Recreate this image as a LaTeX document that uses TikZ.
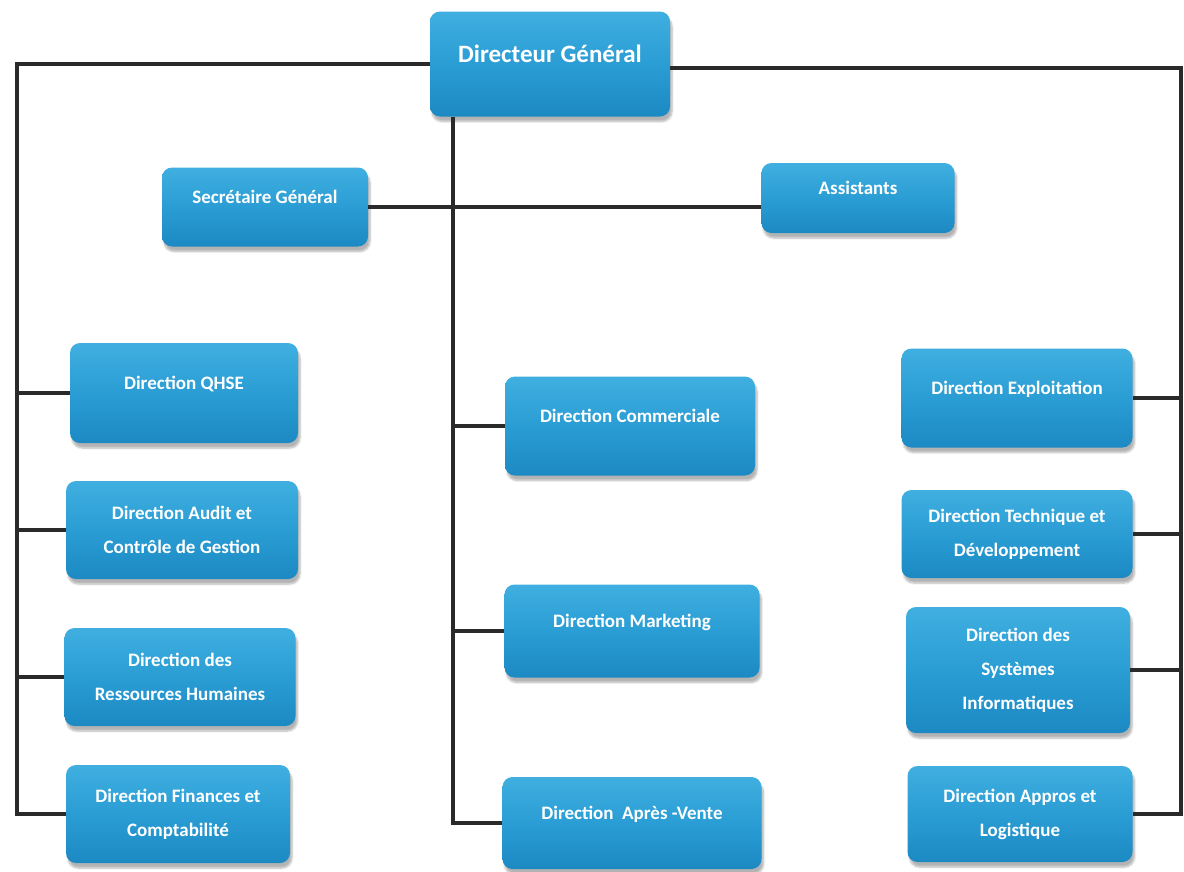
\documentclass[tikz,border=0pt]{standalone}
\usepackage{fontspec}
\setmainfont{Carlito}
\usetikzlibrary{shadows.blur}
\definecolor{boxtop}{HTML}{40AFE0}
\definecolor{boxmid}{HTML}{2A9DD4}
\definecolor{boxbot}{HTML}{1C89C3}
\definecolor{wirecol}{HTML}{2A2A2A}
\tikzset{
  orgbox/.style={rounded corners=10pt, top color=boxtop, bottom color=boxbot,
    middle color=boxmid, draw=none, text=white, font=\bfseries\fontsize{19}{34}\selectfont,
    align=center, inner sep=0pt,
    blur shadow={shadow xshift=2pt, shadow yshift=-5pt, shadow opacity=30, shadow blur steps=6}},
  oneline/.style={text depth=20pt},
  wire/.style={draw=wirecol, line width=3.2pt, line join=miter},
}
\begin{document}
\begin{tikzpicture}[x=1pt, y=-1pt]
  \useasboundingbox (0,0) rectangle (1184,871);

  % top of the chart
  \node[orgbox, oneline, minimum width=240, minimum height=105,
        font=\bfseries\fontsize{25}{30}\selectfont] (dg) at (550,64) {Directeur Général};
  \node[orgbox, oneline, minimum width=206, minimum height=79] (sg) at (265,207) {Secrétaire Général};
  \node[orgbox, oneline, minimum width=193, minimum height=70] (asst) at (858,198) {Assistants};

  % left column
  \node[orgbox, oneline, minimum width=228, minimum height=100] (qhse) at (184,393) {Direction QHSE};
  \node[orgbox, minimum width=232, minimum height=98] (audit) at (182,530) {Direction Audit et\\Contrôle de Gestion};
  \node[orgbox, minimum width=231, minimum height=98] (rh) at (180,677) {Direction des\\Ressources Humaines};
  \node[orgbox, minimum width=224, minimum height=98] (fin) at (178,814) {Direction Finances et\\Comptabilité};

  % centre column
  \node[orgbox, oneline, minimum width=250, minimum height=99] (com) at (630,426) {Direction Commerciale};
  \node[orgbox, oneline, minimum width=255, minimum height=93] (mkt) at (632,631) {Direction Marketing};
  \node[orgbox, oneline, minimum width=259, minimum height=92] (sav) at (632,823) {Direction\ \ Après -Vente};

  % right column
  \node[orgbox, oneline, minimum width=231, minimum height=99] (expl) at (1017,398) {Direction Exploitation};
  \node[orgbox, minimum width=231, minimum height=88] (tech) at (1017,534) {Direction Technique et\\Développement};
  \node[orgbox, minimum width=224, minimum height=126] (dsi) at (1018,670) {Direction des\\Systèmes\\Informatiques};
  \node[orgbox, minimum width=225, minimum height=96] (appro) at (1020,814) {Direction Appros et\\Logistique};

  % bus coordinates
  \coordinate (ltop) at (17,64);
  \coordinate (rtop) at (1181,68);
  \coordinate (cx) at (453,0);

  % left bus
  \draw[wire] (dg.west) -- (ltop) -- (ltop |- fin.west) -- (fin.west);
  \draw[wire] (ltop |- qhse.west) -- (qhse.west);
  \draw[wire] (ltop |- audit.west) -- (audit.west);
  \draw[wire] (ltop |- rh.west) -- (rh.west);

  % right bus
  \draw[wire] (dg.east |- rtop) -- (rtop) -- (rtop |- appro.east) -- (appro.east);
  \draw[wire] (rtop |- expl.east) -- (expl.east);
  \draw[wire] (rtop |- tech.east) -- (tech.east);
  \draw[wire] (rtop |- dsi.east) -- (dsi.east);

  % centre bus
  \draw[wire] (cx |- dg.south) -- (cx |- sav.west) -- (sav.west);
  \draw[wire] (cx |- com.west) -- (com.west);
  \draw[wire] (cx |- mkt.west) -- (mkt.west);

  % staff link
  \draw[wire] (sg.east) -- (sg.east -| asst.west);
\end{tikzpicture}
\end{document}
